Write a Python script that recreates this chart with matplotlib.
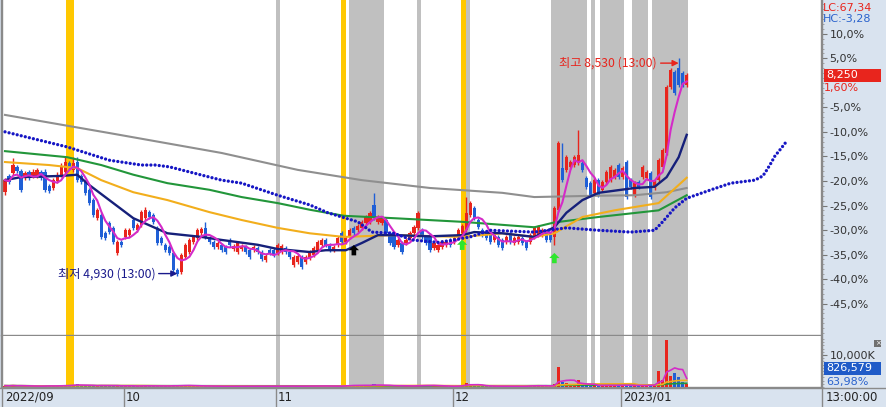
import numpy as np
import pandas as pd
import matplotlib
matplotlib.use("Agg")
import matplotlib.pyplot as plt
import matplotlib.transforms as mtransforms
from matplotlib.patches import Rectangle
from matplotlib.path import Path
from matplotlib.lines import Line2D

plt.rcParams['font.family'] = ['DejaVu Sans', 'Noto Sans CJK KR']

# ---------------- data (240-minute candles, Sep 2022 - Jan 2023) ----------------
opens = [6310, 6580, 6630, 6730, 6660, 6550, 6650, 6580, 6580, 6650,
         6650, 6410, 6380, 6500, 6600, 6650, 6790, 6680, 6810, 6580,
         6480, 6350, 6180, 5880, 5930, 5630, 5800, 5720, 5300, 5490,
         5570, 5600, 5850, 5680, 5770, 5880, 5980, 5930, 5720, 5550,
         5440, 5400, 5300, 5020, 4990, 5240, 5320, 5490, 5550, 5630,
         5720, 5550, 5490, 5400, 5440, 5400, 5520, 5370, 5320, 5370,
         5400, 5350, 5350, 5390, 5320, 5190, 5350, 5350, 5300, 5320,
         5390, 5320, 5100, 5150, 5240, 5150, 5220, 5270, 5350, 5440,
         5520, 5440, 5350, 5440, 5630, 5490, 5570, 5720, 5680, 5720,
         5800, 5820, 6100, 5820, 5800, 5850, 5630, 5600, 5440, 5470,
         5470, 5550, 5630, 5720, 5680, 5570, 5600, 5390, 5350, 5400,
         5440, 5520, 5490, 5570, 5630, 5680, 5930, 6050, 5850, 5680,
         5630, 5600, 5520, 5570, 5520, 5490, 5630, 5470, 5490, 5550,
         5490, 5490, 5570, 5600, 5600, 5630, 5600, 5570, 6020, 6710,
         6680, 6730, 6760, 6790, 6790, 6550, 6460, 6300, 6510, 6350,
         6480, 6510, 6560, 6760, 6560, 6810, 6510, 6260, 6480, 6560,
         6550, 6630, 6380, 6510, 6730, 6960, 8050, 8300, 8370, 8290,
         8090]
closes = [6510, 6480, 6760, 6660, 6350, 6630, 6550, 6650, 6680, 6550,
          6350, 6330, 6510, 6600, 6750, 6810, 6710, 6790, 6510, 6480,
          6300, 6130, 5930, 6020, 5570, 5550, 5650, 5490, 5490, 5440,
          5680, 5680, 5720, 5770, 5980, 6020, 5900, 5820, 5470, 5470,
          5350, 5300, 5020, 4960, 5270, 5440, 5520, 5570, 5680, 5700,
          5570, 5490, 5400, 5470, 5350, 5320, 5440, 5420, 5470, 5420,
          5320, 5240, 5400, 5320, 5200, 5250, 5300, 5270, 5440, 5420,
          5320, 5240, 5240, 5250, 5070, 5240, 5320, 5390, 5490, 5520,
          5440, 5350, 5400, 5550, 5490, 5550, 5680, 5630, 5750, 5820,
          5900, 5970, 5880, 5900, 5880, 5630, 5470, 5400, 5520, 5320,
          5520, 5630, 5730, 5970, 5570, 5470, 5350, 5470, 5440, 5490,
          5490, 5440, 5550, 5680, 5750, 5970, 6130, 5880, 5730, 5600,
          5550, 5490, 5600, 5440, 5390, 5570, 5490, 5550, 5570, 5470,
          5390, 5600, 5720, 5730, 5680, 5520, 5520, 6050, 7120, 6510,
          6890, 6810, 6890, 6930, 6680, 6400, 6260, 6510, 6260, 6480,
          6650, 6730, 6680, 6560, 6710, 6230, 6400, 6460, 6400, 6730,
          6650, 6230, 6480, 6840, 7010, 8050, 8340, 7950, 8090, 8090,
          8250]
highs = [6550, 6610, 6880, 6760, 6690, 6660, 6680, 6700, 6710, 6680,
         6690, 6450, 6550, 6640, 6790, 6890, 6830, 6890, 6890, 6610,
         6510, 6380, 6210, 6050, 5970, 5670, 5830, 5750, 5520, 5520,
         5720, 5720, 5880, 5800, 6010, 6060, 6020, 5970, 5750, 5580,
         5470, 5440, 5340, 5050, 5300, 5470, 5550, 5600, 5720, 5730,
         5820, 5580, 5520, 5500, 5470, 5440, 5550, 5450, 5500, 5450,
         5440, 5390, 5440, 5420, 5350, 5290, 5390, 5390, 5470, 5450,
         5420, 5350, 5270, 5290, 5270, 5270, 5350, 5420, 5520, 5550,
         5550, 5470, 5440, 5580, 5670, 5580, 5720, 5750, 5780, 5850,
         5930, 6000, 6300, 5930, 5920, 5880, 5670, 5630, 5550, 5500,
         5550, 5670, 5770, 6000, 5720, 5600, 5640, 5500, 5470, 5520,
         5520, 5550, 5580, 5720, 5780, 6230, 6160, 6080, 5880, 5720,
         5670, 5630, 5630, 5600, 5550, 5600, 5670, 5580, 5600, 5580,
         5520, 5630, 5750, 5770, 5720, 5670, 5630, 6080, 7150, 7120,
         6930, 6840, 6930, 7340, 6830, 6580, 6500, 6550, 6550, 6510,
         6680, 6760, 6710, 6790, 6740, 6840, 6550, 6500, 6510, 6760,
         6680, 6660, 6510, 6880, 7050, 8090, 8370, 8340, 8530, 8320,
         8290]
lows = [6260, 6450, 6600, 6630, 6310, 6510, 6510, 6550, 6550, 6510,
        6310, 6290, 6350, 6460, 6560, 6610, 6680, 6650, 6480, 6450,
        6260, 6100, 5900, 5850, 5530, 5520, 5620, 5450, 5270, 5400,
        5530, 5570, 5680, 5650, 5730, 5850, 5870, 5780, 5430, 5430,
        5320, 5270, 4990, 4930, 4960, 5200, 5290, 5450, 5520, 5600,
        5530, 5450, 5370, 5370, 5320, 5290, 5400, 5340, 5290, 5340,
        5290, 5200, 5320, 5290, 5170, 5150, 5270, 5240, 5270, 5290,
        5290, 5200, 5070, 5120, 5040, 5120, 5190, 5240, 5320, 5400,
        5400, 5320, 5320, 5400, 5450, 5450, 5530, 5600, 5650, 5680,
        5770, 5780, 5850, 5780, 5770, 5600, 5430, 5370, 5400, 5290,
        5430, 5520, 5600, 5680, 5530, 5430, 5320, 5350, 5320, 5370,
        5400, 5400, 5450, 5530, 5600, 5650, 5900, 5850, 5700, 5570,
        5520, 5450, 5490, 5400, 5350, 5450, 5450, 5430, 5450, 5430,
        5350, 5450, 5530, 5570, 5570, 5490, 5490, 5440, 5980, 6480,
        6640, 6690, 6730, 6760, 6640, 6360, 6230, 6260, 6230, 6310,
        6450, 6480, 6530, 6530, 6530, 6200, 6360, 6230, 6360, 6530,
        6510, 6200, 6350, 6480, 6690, 6930, 8020, 7920, 8050, 8050,
        8050]
volumes_k = [420, 380, 510, 300, 450, 280, 260, 310, 240, 290, 470, 330, 300, 260, 480,
             620, 540, 700, 810, 420, 390, 460, 520, 380, 610, 330, 290, 440, 520, 280,
             350, 300, 380, 260, 450, 410, 280, 260, 440, 300, 320, 290, 520, 480, 560,
             430, 380, 300, 330, 280, 350, 260, 240, 220, 250, 230, 260, 210, 240, 220,
             230, 260, 200, 210, 280, 230, 210, 220, 380, 260, 220, 240, 300, 260, 320,
             240, 280, 300, 380, 340, 260, 250, 230, 290, 310, 620, 700, 460, 420, 480,
             560, 640, 900, 480, 380, 420, 470, 450, 300, 380, 260, 320, 380, 560, 650,
             380, 420, 450, 260, 230, 240, 220, 260, 380, 700, 1300, 820, 420, 380, 300,
             280, 260, 240, 280, 260, 240, 230, 250, 240, 260, 280, 600, 420, 350, 300,
             280, 300, 900, 6200, 1600, 1300, 700, 650, 2300, 600, 500, 450, 480, 520, 600,
             560, 520, 480, 500, 600, 650, 400, 450, 380, 550, 480, 620, 900, 5000, 2200,
             14700, 3500, 4400, 3100, 1500, 826.579]

# moving-average lines (bar index, price)
ma20_idx = [0, 4, 14, 18, 21, 26, 32, 40.5, 49, 54, 63, 68, 76, 80, 85, 89, 93, 97,
            106, 114, 117, 124, 132, 137, 140, 144, 148, 157, 162, 165, 168, 170]
ma20_val = [6510, 6560, 6580, 6600, 6430, 6180, 5880, 5630, 5570, 5520, 5440, 5370,
            5320, 5350, 5350, 5470, 5600, 5600, 5580, 5600, 5650, 5630, 5570, 5730,
            5970, 6180, 6300, 6380, 6400, 6560, 6890, 7260]
ma60_idx = [0, 11, 18, 24, 32, 40.5, 51, 59, 68, 76, 84.5, 97, 114, 124, 132, 137,
            144, 152, 163, 170]
ma60_val = [6810, 6760, 6710, 6510, 6310, 6180, 5980, 5850, 5720, 5630, 5570, 5600,
            5570, 5630, 5570, 5630, 5900, 6010, 6130, 6550]
ma120_idx = [0, 15.5, 24, 32, 40.5, 51, 59, 68, 76, 84.5, 97, 114, 124, 132, 137,
             148, 163, 170]
ma120_val = [6990, 6890, 6760, 6600, 6460, 6350, 6230, 6130, 6020, 5920, 5880, 5820,
             5770, 5730, 5810, 5900, 6010, 6260]
ma240_idx = [0, 26, 54, 73, 89, 106, 124, 132, 146, 157, 165, 170]
ma240_val = [7590, 7290, 6960, 6680, 6510, 6380, 6300, 6230, 6250, 6260, 6310, 6380]
span_idx = [0, 15.5, 26, 34, 37.5, 41, 54, 59, 68, 76, 80.5, 88, 91.5, 97, 101.5, 108,
            112, 116, 121, 132, 140, 148, 156, 162, 164, 167, 170, 176.5, 181, 187,
            189, 190, 191, 192, 193, 195]
span_val = [7310, 7060, 6840, 6760, 6760, 6730, 6510, 6460, 6260, 6100, 5970, 5820,
            5650, 5630, 5520, 5480, 5520, 5570, 5680, 5650, 5720, 5680, 5650, 5680,
            5820, 6050, 6210, 6360, 6460, 6510, 6580, 6680, 6790, 6910, 6990, 7160]

# highlighted bars (bar-index spans)
yellow_spans = [(15.2, 17.2), (83.8, 85.0), (113.7, 115.0), (163.1, 164.3)]
grey_spans = [(67.6, 68.6), (85.8, 94.5), (102.7, 103.7), (115.0, 116.0), (136.2, 145.1),
              (146.1, 147.1), (148.4, 154.4), (156.4, 160.3), (161.3, 170.3)]

# buy-signal arrows
signal_idx = [87, 114, 137]
signal_price = [5350, 5440, 5220]
signal_color = ['#000000', '#2EE62E', '#2EE62E']

base_price = 8120
pct_ticks = [10, 5, -5, -10, -15, -20, -25, -30, -35, -40, -45]
month_start = [0, 30, 68, 112, 154]
month_labels = ['2022/09', '10', '11', '12', '2023/01']
lc_text, hc_text, vol_pct_text = 'LC:67,34', 'HC:-3,28', '63,98%'

# ---------------- styling ----------------
RED, BLUE = '#E8251D', '#1F5FD6'
MAG, NAVY, GOLD, GREEN, GREYL, DOT = '#D42BC8', '#16207A', '#F2AE1C', '#22963A', '#8F8F8F', '#1616C4'
YEL, GBAND, PANEL, FRAME = '#FFC800', '#C0C0C0', '#D9E3EF', '#8A8A8A'

W, H = 886.0, 407.0
X0, STEP = 5.0, 4.01
def fx(px): return px / W
def fy(py): return 1 - py / H
def px2i(px): return (px - X0) / STEP

o = np.array(opens, float); c = np.array(closes, float)
hi = np.array(highs, float); lo = np.array(lows, float)
vol = np.array(volumes_k, float) * 1000
idx = np.arange(len(c))
up = c >= o
cols = np.where(up, RED, BLUE)

fig = plt.figure(figsize=(8.86, 4.07), dpi=100)
fig.patch.set_facecolor(PANEL)
ax = fig.add_axes([fx(1), fy(335), fx(821) - fx(1), 335 / H])
axv = fig.add_axes([fx(1), fy(387), fx(821) - fx(1), 51 / H])
axd = fig.add_axes([0, 0, fx(822), 20 / H])

for a in (ax, axv):
    a.set_facecolor('white')
    a.set_xlim(px2i(1), px2i(821))
    a.set_xticks([])
    for s, sp in a.spines.items():
        sp.set_color(FRAME)
        sp.set_linewidth(1.0)
    a.spines['top'].set_visible(False)
    for s0, s1 in yellow_spans:
        a.axvspan(s0, s1, color=YEL, lw=0, zorder=0)
    for s0, s1 in grey_spans:
        a.axvspan(s0, s1, color=GBAND, lw=0, zorder=0)

# price axis
ax.set_ylim(base_price * (1 - 51.4 / 100), base_price * (1 + 16.9 / 100))
ax.vlines(idx, lo, hi, colors=cols, linewidth=1.0, zorder=3)
body = np.maximum(np.abs(c - o), 14)
ax.bar(idx, body, bottom=np.minimum(o, c), width=0.8, color=cols, linewidth=0, zorder=4)

ma5 = pd.Series(c).rolling(5, min_periods=1).mean()
ax.plot(ma240_idx, ma240_val, color=GREYL, lw=1.5, zorder=5)
ax.plot(ma120_idx, ma120_val, color=GREEN, lw=1.5, zorder=5)
ax.plot(ma60_idx, ma60_val, color=GOLD, lw=1.5, zorder=5)
ax.plot(ma20_idx, ma20_val, color=NAVY, lw=1.7, zorder=5)
ax.plot(idx, ma5, color=MAG, lw=1.5, zorder=6)
ax.plot(span_idx, span_val, color=DOT, lw=2.4, linestyle=(0, (0.001, 1.25)),
        dash_capstyle='round', zorder=7)

arrow_path = Path([(0, 1), (-1, 0), (-0.45, 0), (-0.45, -1), (0.45, -1), (0.45, 0), (1, 0), (0, 1)])
ax.scatter(signal_idx, signal_price, marker=arrow_path, s=55, c=signal_color, zorder=8, linewidths=0)

ax.yaxis.tick_right()
ticks = [base_price * (1 + p / 100) for p in pct_ticks]
ax.set_yticks(ticks)
ax.set_yticklabels([f'{p:.1f}%'.replace('.', ',') for p in pct_ticks])
ax.set_yticks([base_price * (1 + p / 100) for p in range(-51, 17)], minor=True)
ax.tick_params(axis='y', which='major', length=4, width=0.8, color='#777777', pad=2,
               labelsize=8, labelcolor='#333333')
ax.tick_params(axis='y', which='minor', length=2, width=0.6, color='#999999')

def shifted(dy_px):
    return ax.transData + mtransforms.ScaledTranslation(0, dy_px / 100.0, fig.dpi_scale_trans)

imin = int(np.argmin(lo)); imax = int(np.argmax(hi))
TXT_NAVY = '#1A1A8C'
ax.annotate('', xy=(imin, lo[imin]), xycoords=shifted(2), xytext=(-13.5, 0), textcoords='offset points',
            arrowprops=dict(arrowstyle='-|>', color=TXT_NAVY, lw=1.0, mutation_scale=9, shrinkA=0, shrinkB=0),
            zorder=9)
ax.annotate(f'최저 {lo[imin]:,.0f} (13:00)', xy=(imin, lo[imin]), xycoords=shifted(2), xytext=(-15.5, 0),
            textcoords='offset points', ha='right', va='center', color=TXT_NAVY, fontsize=8.8,
            family=['Noto Sans CJK KR', 'DejaVu Sans'], zorder=9)
ax.annotate('', xy=(imax, hi[imax]), xycoords=shifted(-5), xytext=(-13, 0), textcoords='offset points',
            arrowprops=dict(arrowstyle='-|>', color=RED, lw=1.0, mutation_scale=9, shrinkA=0, shrinkB=0),
            zorder=9)
ax.annotate(f'최고 {hi[imax]:,.0f} (13:00)', xy=(imax, hi[imax]), xycoords=shifted(-5), xytext=(-16, 0),
            textcoords='offset points', ha='right', va='center', color=RED, fontsize=8.8,
            family=['Noto Sans CJK KR', 'DejaVu Sans'], zorder=9)

# volume axis
axv.set_ylim(0, 10_000_000 * 51 / 32)
axv.bar(idx, vol, width=0.8, color=cols, linewidth=0, zorder=3)
vs = pd.Series(vol)
axv.plot(idx, vs.rolling(60, min_periods=1).mean(), color=GREEN, lw=1.2, zorder=4)
axv.plot(idx, vs.rolling(20, min_periods=1).mean(), color=GOLD, lw=1.2, zorder=4)
axv.plot(idx, vs.rolling(5, min_periods=1).mean(), color=MAG, lw=1.2, zorder=5)
axv.yaxis.tick_right()
axv.set_yticks([10_000_000])
axv.set_yticklabels(['10,000K'])
axv.set_yticks(np.arange(0, 16_000_000, 1_000_000), minor=True)
axv.tick_params(axis='y', which='major', length=4, width=0.8, color='#777777', pad=2,
                labelsize=8, labelcolor='#333333')
axv.tick_params(axis='y', which='minor', length=2, width=0.6, color='#999999')

# date band
axd.set_facecolor(PANEL)
axd.set_xlim(px2i(0), px2i(822))
axd.set_ylim(0, 1)
axd.axis('off')
for k, (m, lab) in enumerate(zip(month_start, month_labels)):
    xm = m - 0.3
    if k > 0:
        axd.axvline(xm, color=FRAME, lw=1.0)
    axd.text(max(xm, px2i(1)) + 0.4, 0.48, lab, ha='left', va='center', fontsize=8.5, color='#222222')

fig.add_artist(Line2D([fx(822), fx(822)], [0, 1], transform=fig.transFigure, color=FRAME, lw=1.0))
fig.add_artist(Line2D([0, 1], [fy(387.5), fy(387.5)], transform=fig.transFigure, color=FRAME, lw=1.0))
fig.add_artist(Line2D([fx(1.5), fx(1.5)], [0, 1], transform=fig.transFigure, color=FRAME, lw=1.0))

# right panel texts
fig.text(fx(823), fy(8), lc_text, color=RED, fontsize=8, ha='left', va='center')
fig.text(fx(823), fy(19), hc_text, color='#2A62CC', fontsize=8, ha='left', va='center')

fig.canvas.draw()
y_last = ax.transData.transform((0, c[-1]))[1]
yl = y_last / fig.bbox.height
fig.add_artist(Rectangle((fx(824), yl - 6.5 / H), 57 / W, 13 / H, transform=fig.transFigure,
                         facecolor=RED, edgecolor='none', zorder=10))
fig.text(fx(826), yl, f'{c[-1]:,.0f}', color='white', fontsize=8, ha='left', va='center', zorder=11)
pct_last = (c[-1] / base_price - 1) * 100
fig.text(fx(824), yl - 13 / H, f'{pct_last:.2f}%'.replace('.', ','), color=RED, fontsize=8,
         ha='left', va='center', zorder=11)

fig.add_artist(Rectangle((fx(824), fy(375)), 57 / W, 13 / H, transform=fig.transFigure,
                         facecolor='#1F5BC8', edgecolor='none', zorder=10))
fig.text(fx(826), fy(368.5), f'{int(round(vol[-1])):,}', color='white', fontsize=8, ha='left',
         va='center', zorder=11)
fig.text(fx(826), fy(381.5), vol_pct_text, color='#2A62CC', fontsize=8, ha='left', va='center')
fig.text(fx(826), fy(397.5), '13:00:00', color='#222222', fontsize=8.5, ha='left', va='center')

# small close icon in volume pane
fig.add_artist(Rectangle((fx(874), fy(347)), 7 / W, 7 / H, transform=fig.transFigure,
                         facecolor='#707070', edgecolor='none', zorder=10))
fig.text(fx(877.5), fy(343.5), '×', color='white', fontsize=5, ha='center', va='center', zorder=11)

fig.savefig('out.png', dpi=100, facecolor=fig.get_facecolor())
